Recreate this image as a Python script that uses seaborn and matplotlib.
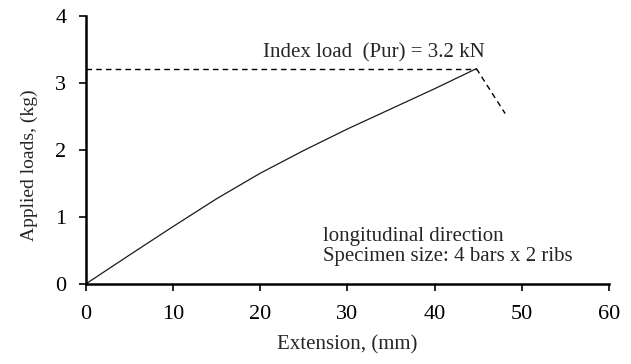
import matplotlib
matplotlib.use("Agg")
import matplotlib.pyplot as plt
import seaborn as sns
import pandas as pd

# Load–extension record of the specimen
extension_mm = [0, 5, 10, 15, 20, 25, 30, 35, 40, 44.8]
load_kg = [0, 0.43, 0.855, 1.27, 1.65, 1.99, 2.31, 2.61, 2.91, 3.21]

# Post-peak drop (dashed)
drop_x = [44.8, 48.1]
drop_y = [3.21, 2.54]

peak_load = 3.21
x_ticks = [0, 10, 20, 30, 40, 50, 60]
y_ticks = [0, 1, 2, 3, 4]

sns.set_theme(style="ticks")
plt.rcParams["font.family"] = ["Liberation Serif", "DejaVu Serif"]

fig = plt.figure(figsize=(6.31, 3.64), dpi=100)
ax = fig.add_axes([0.136, 0.22, 0.829, 0.737])

df = pd.DataFrame({"Extension": extension_mm, "Load": load_kg})
sns.lineplot(data=df, x="Extension", y="Load", ax=ax, color="#1a1a1a",
             linewidth=0.9, sort=False)

# Peak load reference and the drop after failure
ax.plot([0, extension_mm[-1]], [peak_load, peak_load], color="black",
        linewidth=1.0, linestyle=(0, (4, 3)))
ax.plot(drop_x, drop_y, color="black", linewidth=1.0, linestyle=(0, (4, 3)))

ax.text(20.3, 3.37, "Index load  (Pur) = 3.2 kN", fontsize=15,
        ha="left", va="baseline")
ax.text(27.2, 0.64, "longitudinal direction", fontsize=15,
        ha="left", va="baseline")
ax.text(27.2, 0.345, "Specimen size: 4 bars x 2 ribs", fontsize=15,
        ha="left", va="baseline")

ax.set_xlim(0, 60)
ax.set_ylim(0, 4)
ax.set_xticks(x_ticks)
ax.set_yticks(y_ticks)
ax.set_xlabel("Extension, (mm)", fontsize=15, labelpad=8)
ax.set_ylabel("Applied loads, (kg)", fontsize=14)
ax.yaxis.set_label_coords(-0.092, 0.443)
ax.tick_params(axis="both", labelsize=16, direction="out", length=5,
               width=1.2, color="black", labelcolor="black")
ax.tick_params(axis="x", pad=10)
ax.tick_params(axis="y", pad=9)

sns.despine(ax=ax)
for side in ("left", "bottom"):
    ax.spines[side].set_linewidth(1.8)
    ax.spines[side].set_color("black")

fig.savefig("out.png", dpi=100)
